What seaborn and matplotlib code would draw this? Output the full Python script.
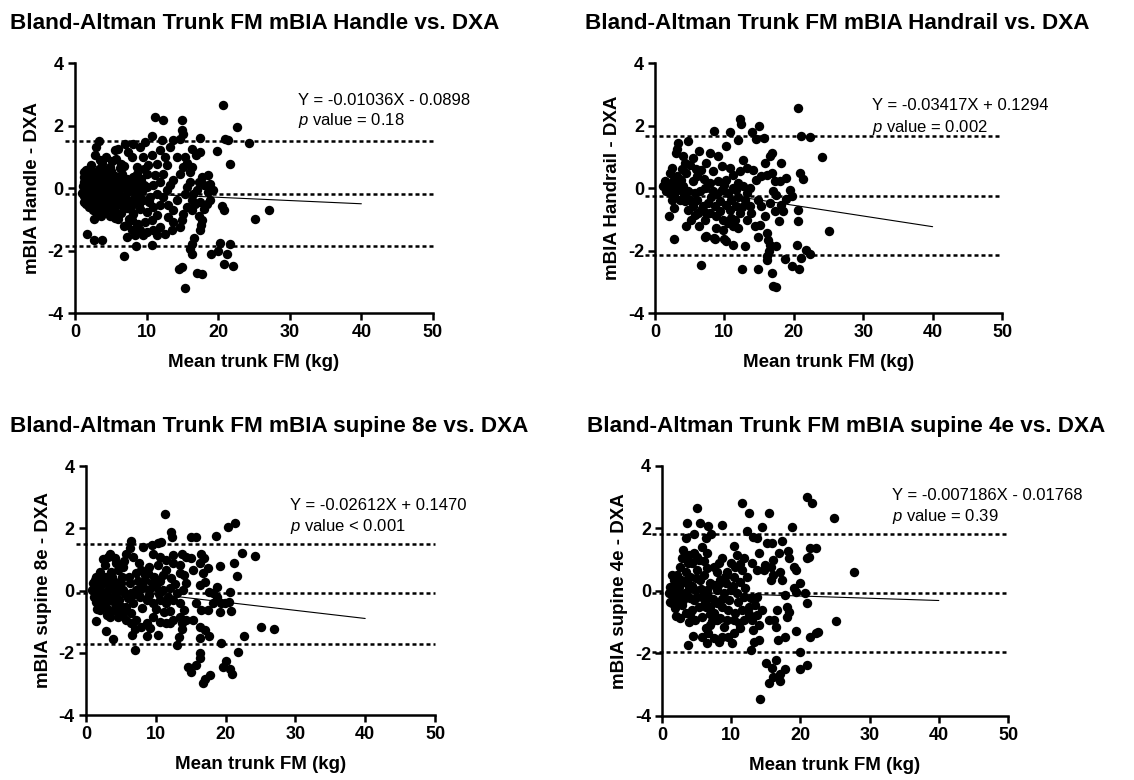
import numpy as np
import matplotlib
matplotlib.use("Agg")
import matplotlib.pyplot as plt
import seaborn as sns
import pandas as pd

sns.set_style("ticks")
plt.rcParams['font.family'] = ['Liberation Sans', 'DejaVu Sans']
plt.rcParams['mathtext.fontset'] = 'custom'
plt.rcParams['mathtext.it'] = 'Liberation Sans:italic'
plt.rcParams['mathtext.rm'] = 'Liberation Sans'
plt.rcParams['axes.unicode_minus'] = False
for key in ['text.color', 'axes.labelcolor', 'xtick.color', 'ytick.color', 'axes.edgecolor']:
    plt.rcParams[key] = 'black'

# ---- data: (mean trunk FM, difference) ----
handle_pts = [
    (20.7, 2.67), (11.2, 2.27), (12.3, 2.19), (15.0, 2.17), (15.0, 1.85), (15.1, 1.74),
    (22.6, 1.95), (20.9, 1.58), (21.4, 1.53), (24.3, 1.44), (21.6, 0.76), (19.8, 1.18),
    (17.4, 1.61), (25.1, -1.00), (27.1, -0.71), (20.5, -0.59), (20.8, -0.71), (20.3, -1.76),
    (21.7, -1.78), (20.0, -2.0), (19.0, -2.10), (21.2, -2.12), (20.8, -2.44), (22.1, -2.50),
    (14.6, -2.58), (14.9, -2.53), (17.1, -2.72), (17.7, -2.74), (15.3, -3.19), (16.0, -1.94),
    (16.3, -2.10), (16.4, -1.78), (16.6, -1.59), (17.4, -1.35), (17.6, -1.19), (17.8, -1.03),
    (17.3, -0.91), (1.7, -1.46), (2.7, -1.67), (3.8, -1.67), (6.8, -2.17), (8.5, -1.86),
    (10.7, -1.81), (9.5, -1.51), (8.4, -1.51), (7.2, -1.57),
    (16.0, 0.19), (15.6, 0.03), (15.3, -0.18), (16.3, -0.39), (15.6, -0.61), (15.1, -0.82),
    (15.0, -1.03), (16.3, -0.71), (16.5, -0.18), (17.0, -0.07), (17.3, 0.19), (17.8, 0.35),
    (18.6, 0.41), (18.8, 0.14), (18.0, 0.09), (18.6, -0.13), (19.3, -0.07), (18.9, -0.37),
    (18.4, -0.50), (18.0, -0.66), (17.4, -0.45), (16.7, -0.50), (16.0, 0.51), (16.3, 0.67),
    (15.7, 0.81), (15.3, 0.99), (16.9, 1.05), (17.4, 1.15), (16.3, 1.26), (13.7, 1.53),
    (14.7, 1.58), (13.3, 1.31), (14.2, 0.99), (15.1, 0.67), (14.7, 0.46), (13.7, 0.25),
    (13.3, 0.09), (14.2, -0.39), (13.7, -0.71), (13.0, -0.93), (13.7, -1.09), (14.7, -1.25),
    (13.5, -1.35), (12.6, -1.46), (11.9, -1.25), (13.0, -0.55),
    (10.7, 1.05), (11.4, 0.78), (11.9, 1.21), (12.6, 0.99), (12.8, 0.73), (10.2, 0.73),
    (9.5, 0.99), (9.1, 1.31), (8.1, 1.42), (7.9, 0.99), (8.6, 0.67), (10.0, 0.46),
    (11.2, 0.41), (12.3, 0.46), (11.9, 0.19), (10.9, 0.09), (10.0, 0.03), (9.1, 0.19),
    (8.1, 0.35), (7.4, 0.19), (11.4, -0.18), (12.3, -0.29), (12.8, -0.07), (10.5, -0.29),
    (9.5, -0.39), (8.6, -0.23), (7.9, -0.39), (11.9, -0.55), (10.9, -0.61), (10.0, -0.77),
    (9.1, -0.66), (8.1, -0.82), (11.4, -0.87), (10.7, -1.03), (9.8, -1.09), (8.8, -1.14),
    (7.9, -1.03), (7.2, -1.19), (10.9, -1.35), (10.0, -1.41), (11.4, -1.51), (7.9, -1.35),
    (9.1, -1.35), (10.8, 1.66), (12.1, 1.54), (9.8, 1.47),
    (3.3, 1.50), (3.0, 1.31), (2.8, 1.05), (3.5, 0.89), (4.4, 0.99), (5.6, 1.21),
    (6.0, 1.26), (5.8, 0.94), (7.0, 1.42), (7.4, 1.15), (6.5, 0.78), (4.9, 0.67),
    (4.0, 0.62), (2.3, 0.73), (1.6, 0.57), (1.2, 0.35),
    (1.1, 0.05), (1.2, -0.25), (1.3, -0.45), (1.4, 0.25), (1.5, -0.1), (1.6, 0.45),
    (1.7, -0.35), (1.8, 0.1), (1.9, -0.6), (2.0, 0.3), (2.1, -0.15), (2.2, -0.4),
    (2.3, 0.55), (2.4, 0.0), (2.5, -0.7), (2.6, 0.2), (2.7, -0.25), (2.8, -0.5),
    (2.9, 0.4), (3.0, -0.05), (3.1, -0.8), (3.2, 0.15), (3.3, -0.35), (3.4, 0.6),
    (3.5, -0.6), (3.6, 0.05), (3.7, 0.35), (3.8, -0.2), (3.9, -0.45), (4.0, 0.2),
    (4.1, -0.75), (4.2, 0.5), (4.3, -0.1), (4.4, -0.35), (4.5, 0.1), (4.6, -0.6),
    (4.7, 0.35), (4.8, -0.25), (4.9, -0.9), (5.0, 0.0), (5.1, 0.55), (5.2, -0.45),
    (5.3, 0.25), (5.4, -0.15), (5.5, -0.7), (5.6, 0.4), (5.7, -0.3), (5.8, 0.1),
    (5.9, -0.55), (6.0, -1.0), (6.1, 0.2), (6.2, -0.2), (6.4, -0.8), (6.5, 0.0),
    (6.6, 0.45), (6.7, -0.45), (6.8, -1.2), (6.9, 0.15), (7.0, -0.25), (7.2, -0.65),
    (7.3, 0.3), (7.5, -1.0), (7.6, -0.1), (7.8, 0.1), (7.9, -0.55), (8.1, -0.8),
    (8.3, 0.2), (8.4, -0.3), (8.6, -1.2), (8.8, 0.0), (9.0, -0.5), (9.2, 0.3),
    (1.0, -0.15), (1.2, 0.2), (1.5, -0.5), (2.0, -0.3), (2.2, 0.15), (2.7, 0.1),
    (3.3, 0.3), (3.5, -0.3), (4.0, -0.05), (4.5, -0.45), (2.0, 0.55), (1.3, 0.5),
    (1.4, -0.3), (1.8, -0.2), (2.3, -0.55), (2.5, 0.35), (3.0, 0.25), (3.2, -0.55),
    (3.8, 0.5), (4.2, -0.25), (4.6, 0.25), (5.0, -0.6), (5.5, 0.1), (6.0, -0.4),
    (6.3, 0.3), (6.8, -0.6), (7.1, 0.0), (7.7, -0.4), (8.2, -0.1), (8.9, -0.3),
    (9.4, -0.1), (9.7, 0.1), (10.3, -0.45), (6.3, 0.65), (5.2, 0.85), (3.8, 0.8),
    (2.6, -1.0), (3.7, -0.9), (5.6, -0.95), (6.9, 0.7), (8.7, 0.45), (9.6, 0.6),
]

handrail_pts = [
    (20.6, 2.56), (12.3, 2.21), (12.4, 2.06), (15.0, 1.97), (14.0, 1.78), (14.6, 1.57),
    (15.7, 1.60), (8.5, 1.81), (10.8, 1.78), (12.0, 1.55), (21.0, 1.65), (22.3, 1.63),
    (24.1, 0.99), (25.0, -1.39), (20.9, 0.48), (21.3, 0.29), (20.6, -0.69), (20.6, -1.07),
    (20.4, -1.81), (21.7, -1.97), (22.3, -2.11), (21.1, -2.24), (20.8, -2.59), (19.8, -2.49),
    (18.8, -2.27), (16.8, -2.72), (17.4, -3.17), (17.0, -3.15), (14.9, -2.59), (12.6, -2.59),
    (6.7, -2.45), (2.7, -1.63), (2.0, -0.91), (4.5, -1.21), (7.2, -1.57), (7.4, -1.55),
    (8.5, -1.60), (8.7, -1.63), (10.0, -1.63), (10.3, -1.71), (11.3, -1.81), (13.0, -1.85),
    (14.8, -1.57), (16.2, -1.44), (16.3, -1.65), (16.5, -1.81), (16.4, -2.03), (16.1, -2.19),
    (16.1, -2.29), (17.5, -1.87), (17.9, -1.07), (18.5, -0.75), (18.1, -0.53),
    (13.2, -0.16), (12.9, -0.37), (13.7, -0.59), (13.9, -0.80), (13.2, -1.01), (14.4, -1.23),
    (15.1, -1.17), (15.8, -0.91), (15.3, -0.59), (14.9, -0.37), (14.6, 0.27), (15.3, 0.37),
    (16.1, 0.43), (16.5, 1.01), (16.8, 1.12), (15.8, 0.80), (14.1, 0.59), (13.2, 0.64),
    (12.7, 0.91), (12.2, 0.53), (17.3, 0.21), (18.0, 0.21), (18.1, 0.80), (18.9, 0.32),
    (19.4, -0.05), (19.7, -0.27), (18.9, -0.35), (17.5, -0.21), (17.0, -0.11), (16.5, -0.48),
    (17.3, -0.75), (16.8, 0.48), (12.7, 0.05), (13.7, 0.0), (11.7, -0.05), (12.0, 0.16),
    (10.3, 1.33), (9.1, 1.01), (7.9, 1.12), (7.4, 0.80), (6.4, 1.17), (6.7, 0.59),
    (8.4, 0.53), (9.6, 0.69), (10.8, 0.64), (11.3, 0.43), (10.3, 0.27), (9.1, 0.21),
    (7.9, 0.16), (7.2, 0.0), (8.4, -0.11), (9.6, -0.05), (10.5, -0.16), (11.3, 0.0),
    (11.0, -0.37), (10.3, -0.53), (9.3, -0.43), (8.6, -0.59), (7.6, -0.48), (6.9, -0.59),
    (7.9, -0.80), (8.8, -0.91), (9.8, -1.01), (10.5, -1.12), (11.3, -1.23), (12.0, -1.28),
    (11.5, -1.01), (12.2, -0.80), (11.7, -0.59), (7.2, -1.01), (6.4, -1.23), (6.2, -0.80),
    (6.0, -0.37), (5.7, -0.16), (9.8, -1.33), (8.8, -1.28),
    (3.3, 1.44), (3.2, 1.25), (3.0, 1.12), (4.0, 1.03), (4.8, 1.49), (4.3, 0.80),
    (5.0, 0.75), (5.5, 0.96), (2.4, 0.64), (2.1, 0.48), (1.4, 0.21), (1.9, 0.05),
    (1.6, -0.11), (2.6, 0.21), (3.1, 0.37), (3.8, 0.27), (4.5, 0.48), (3.3, 0.0),
    (4.0, 0.05), (4.8, -0.11), (2.8, -0.27), (3.6, -0.37), (4.3, -0.43), (5.0, -0.37),
    (5.5, -0.59), (4.8, -0.69), (5.7, -0.85), (5.2, -1.01), (2.4, -0.37), (2.7, -0.64),
    (5.5, 0.21), (6.0, 0.37), (2.1, -0.16), (1.2, 0.05),
    (2.5, 0.1), (3.0, -0.1), (3.5, 0.15), (4.2, -0.2), (6.5, -0.1), (7.0, 0.3),
    (8.0, -0.3), (9.0, -0.2), (9.9, 0.1), (10.8, -0.7), (11.9, -0.3), (6.6, -0.7),
    (7.4, -0.8), (9.4, -0.75), (10.9, -0.95), (12.5, -0.6), (3.9, 0.6), (5.9, 0.6),
]

supine8_pts = [
    (11.3, 2.46), (21.3, 2.16), (20.4, 2.03), (18.6, 1.75), (15.0, 1.73), (15.8, 1.73),
    (12.2, 1.89), (12.3, 1.73), (6.5, 1.59), (22.3, 1.22), (24.2, 1.12), (21.2, 0.90),
    (21.6, 0.48), (19.2, 0.79), (25.1, -1.16), (26.9, -1.25), (22.7, -1.46), (21.8, -1.96),
    (19.3, -1.70), (20.1, -2.25), (19.7, -2.45), (20.7, -2.53), (20.9, -2.68), (14.6, -2.45),
    (15.0, -2.61), (15.8, -2.39), (16.3, -2.18), (16.4, -2.02), (16.8, -2.96), (17.1, -2.85),
    (17.7, -2.71), (20.6, -0.04), (20.5, -0.38), (20.8, -0.65), (19.3, -0.41), (18.7, -0.20),
    (18.7, 0.12), (18.2, -0.09), (17.6, -0.04), (17.0, 0.28), (16.3, 0.18), (16.8, 0.55),
    (17.5, 0.71), (16.9, 1.03), (16.5, 1.19), (15.1, 1.03), (15.3, 0.66), (16.3, 0.87),
    (18.2, -0.41), (17.5, -0.63), (16.5, -0.63), (15.8, -0.41), (15.3, -0.95), (16.3, -1.16),
    (17.0, -1.27), (17.6, -1.45), (16.4, -1.54), (19.2, -0.68), (19.9, -0.41),
    (1.4, -0.98), (2.9, -1.29), (3.9, -1.57), (7.0, -1.91), (8.7, -1.45), (7.0, -1.25),
    (6.6, -1.43), (10.3, -1.43), (13.0, -1.75), (13.3, -1.48), (13.7, -1.25),
    (5.8, 1.19), (6.3, 1.36), (8.2, 1.41), (9.4, 1.46), (10.3, 1.52), (10.8, 1.57),
    (9.6, 1.19), (10.6, 1.09), (11.5, 0.98), (12.5, 1.14), (13.7, 1.19), (14.4, 1.09),
    (13.4, 0.82), (12.5, 0.87), (11.5, 0.66), (10.3, 0.82), (9.1, 0.77), (7.9, 0.66),
    (7.2, 0.55), (8.5, 0.50), (9.8, 0.45), (11.0, 0.50), (12.2, 0.39), (13.4, 0.55),
    (14.1, 0.50), (14.4, 0.23), (13.9, 0.02), (13.0, -0.09), (12.0, 0.07), (11.0, 0.02),
    (10.1, 0.12), (9.1, 0.02), (8.2, 0.12), (7.2, 0.02), (7.7, -0.20), (8.7, -0.30),
    (9.6, -0.41), (10.6, -0.30), (11.5, -0.41), (12.5, -0.30), (13.4, -0.41), (14.1, -0.63),
    (13.4, -0.84), (12.5, -0.95), (11.5, -1.05), (10.6, -1.00), (9.6, -0.84), (8.7, -1.05),
    (7.9, -1.16), (7.2, -0.95), (6.5, -0.73), (5.8, -0.52), (14.4, -0.95), (13.7, -1.05),
    (12.0, -1.05), (6.7, 1.09), (7.6, 0.87),
    (3.4, 1.19), (3.2, 1.09), (4.1, 1.03), (4.3, 0.87), (2.7, 0.82), (2.0, 0.61),
    (1.5, 0.45), (1.0, 0.23), (0.8, 0.02), (1.2, -0.20), (1.5, -0.36), (2.0, 0.02),
    (2.4, 0.23), (2.9, 0.45), (3.6, 0.61), (4.6, 0.66), (5.3, 0.77), (5.1, 0.45),
    (4.1, 0.28), (3.4, 0.12), (2.7, -0.09), (2.2, -0.41), (2.9, -0.52), (3.6, -0.30),
    (4.3, -0.09), (5.3, 0.02), (4.8, -0.30), (4.1, -0.57), (3.4, -0.84), (4.6, -0.84),
    (5.5, -0.68), (6.0, -0.25), (6.3, 0.23), (6.5, -0.09), (2.0, -0.63), (2.4, 0.34),
    (3.2, 0.02), (3.9, 0.07), (4.6, 0.12), (1.7, 0.23), (1.2, 0.02), (2.0, -0.20),
    (2.7, -0.36), (4.1, -0.41), (5.1, -0.52), (5.8, -0.95), (6.5, -1.05),
    (1.3, 0.35), (1.8, -0.1), (2.2, 0.45), (2.6, -0.25), (3.0, 0.3), (3.3, -0.2),
    (3.8, 0.45), (4.4, -0.25), (5.0, 0.25), (5.6, -0.1), (6.1, 0.45), (6.8, -0.4),
    (7.4, 0.3), (8.0, -0.55), (8.4, 0.35), (9.0, -0.15), (9.4, 0.25), (10.0, -0.6),
    (10.4, -0.1), (11.2, -0.7), (11.8, -0.2), (12.8, 0.2), (6.9, -0.1), (7.8, 0.05),
    (8.9, 0.55), (10.6, 0.3), (2.5, 1.0), (3.7, -0.65), (4.9, -0.75), (1.6, -0.6),
    (9.2, -1.2), (12.0, -0.65), (5.4, 0.95), (3.0, -0.8),
]

supine4_pts = [
    (21.0, 3.02), (21.7, 2.83), (11.6, 2.83), (12.5, 2.49), (15.4, 2.51), (5.1, 2.65),
    (24.8, 2.33), (3.6, 2.17), (5.5, 2.19), (6.6, 2.08), (8.7, 2.11), (7.1, 1.82),
    (6.3, 1.69), (4.6, 1.82), (3.4, 1.69), (12.3, 1.93), (14.5, 2.04), (13.2, 1.74),
    (13.7, 1.69), (18.8, 2.04), (17.3, 1.61), (27.8, 0.62), (21.4, 1.37), (22.3, 1.37),
    (21.2, 1.10), (21.0, 1.05), (22.6, -1.32), (22.2, -1.33), (21.4, -1.48), (25.1, -0.96),
    (20.9, -0.39), (20.7, -0.07), (20.0, -1.94), (20.0, -2.51), (20.9, -2.37), (14.2, -3.47),
    (15.0, -2.29), (16.4, -2.21), (15.9, -2.47), (16.1, -2.74), (15.5, -2.95), (17.0, -2.66),
    (17.0, -2.87), (17.8, -2.51), (12.8, -1.89), (13.3, -1.62), (14.0, -1.57), (3.7, -1.73),
    (4.5, -1.43), (19.4, -1.27), (17.8, -1.46), (16.8, -1.57), (16.4, -1.16), (16.2, -0.93),
    (15.4, -0.93), (16.6, -0.61), (18.1, -0.50), (18.3, -0.66), (18.1, -0.82), (17.8, -0.13),
    (19.3, -0.02), (19.0, 0.09), (20.0, 0.27), (19.3, 0.67), (19.0, 0.78), (18.4, 1.05),
    (18.2, 1.29), (16.9, 1.21), (16.0, 1.00), (17.1, 0.62), (17.3, 0.35), (16.1, 0.51),
    (15.7, 0.35), (14.7, 0.67), (14.9, 0.83), (13.7, 0.67), (13.0, 0.89), (14.0, 1.21),
    (15.2, 1.53), (15.9, 1.55), (15.7, 0.78),
    (10.4, 1.44), (10.8, 1.15), (11.8, 1.05), (9.9, 0.89), (8.7, 1.05), (8.2, 0.89),
    (7.5, 0.78), (7.9, 0.62), (9.4, 0.62), (10.6, 0.78), (11.6, 0.67), (12.3, 0.46),
    (11.3, 0.30), (10.4, 0.46), (9.2, 0.25), (8.4, 0.35), (7.5, 0.19), (7.9, 0.03),
    (8.9, -0.07), (9.9, 0.03), (10.8, -0.07), (11.8, -0.18), (12.8, -0.23), (13.7, -0.18),
    (13.5, -0.45), (12.5, -0.50), (11.6, -0.61), (10.6, -0.71), (9.6, -0.61), (8.7, -0.50),
    (7.9, -0.39), (7.0, -0.50), (7.5, -0.71), (8.4, -0.87), (9.4, -0.93), (10.4, -0.93),
    (11.1, -1.03), (11.8, -0.93), (13.0, -0.93), (13.7, -0.77), (14.5, -0.61), (14.0, -1.09),
    (13.2, -1.25), (11.3, -1.20), (10.4, -1.36), (9.6, -1.46), (10.1, -1.67), (8.7, -1.46),
    (8.2, -1.62), (7.5, -1.51), (6.7, -1.36), (6.3, -1.20), (7.0, -1.09), (5.8, -1.46),
    (6.5, -1.67), (7.9, -0.93),
    (1.2, 0.14), (1.4, -0.13), (1.2, -0.34), (1.7, 0.35), (2.2, 0.51), (2.4, 0.14),
    (2.6, -0.07), (2.2, -0.29), (1.9, -0.55), (2.9, -0.45), (3.1, 0.30), (3.4, 0.62),
    (2.9, 1.05), (3.1, 1.31), (3.9, 1.15), (4.3, 0.89), (4.6, 1.21), (5.3, 0.99),
    (5.1, 0.67), (4.1, 0.46), (3.9, 0.14), (3.6, -0.13), (3.4, -0.71), (2.6, -0.87),
    (3.9, -0.98), (4.3, -0.61), (4.6, -0.29), (4.8, 0.03), (5.5, 0.35), (6.0, 0.51),
    (6.5, 0.73), (5.8, -0.18), (5.3, -0.50), (5.8, -0.82), (6.3, -0.50), (6.5, 0.03),
    (7.0, 0.25), (6.7, -0.18), (4.8, -0.93), (4.1, -0.23), (3.1, -0.29), (2.4, -0.07),
    (1.7, 0.03), (1.0, -0.07), (1.4, -0.39), (5.1, 1.10), (5.8, 1.42), (6.5, 1.21),
    (2.6, 0.78),
    (1.5, 0.5), (2.0, 0.2), (2.8, 0.35), (3.3, -0.05), (3.6, 0.35), (4.4, 0.15),
    (5.0, -0.2), (5.6, 0.05), (6.2, -0.35), (6.9, -0.75), (7.3, -0.25), (8.1, 0.2),
    (8.6, -0.25), (9.1, 0.45), (9.7, -0.3), (10.2, 0.15), (11.0, -0.35), (12.0, 0.1),
    (2.0, -0.8), (2.8, -0.2), (4.0, -0.75), (4.9, 0.4), (6.1, 0.95), (7.2, -0.95),
    (9.0, -1.15), (12.6, -0.75), (11.3, 0.85), (3.7, 0.9),
]

titles = [
    "Bland-Altman Trunk FM mBIA Handle vs. DXA",
    "Bland-Altman Trunk FM mBIA Handrail vs. DXA",
    "Bland-Altman Trunk FM mBIA supine 8e vs. DXA",
    "Bland-Altman Trunk FM mBIA supine 4e vs. DXA",
]
ylabels = ["mBIA Handle - DXA", "mBIA Handrail - DXA", "mBIA supine 8e - DXA", "mBIA supine 4e - DXA"]
eq_texts = [
    "Y = -0.01036X - 0.0898",
    "Y = -0.03417X + 0.1294",
    "Y = -0.02612X + 0.1470",
    "Y = -0.007186X - 0.01768",
]
p_texts = ["= 0.18", "= 0.002", "< 0.001", "= 0.39"]
slopes = [-0.01036, -0.03417, -0.02612, -0.007186]
intercepts = [-0.0898, 0.1294, 0.1470, -0.01768]
bias = [-0.18, -0.245, -0.08, -0.064]
upper_loa = [1.50, 1.675, 1.505, 1.81]
lower_loa = [-1.87, -2.14, -1.71, -1.95]
all_pts = [handle_pts, handrail_pts, supine8_pts, supine4_pts]

# layout in figure fractions (left, bottom, width, height)
ax_rects = [
    (0.0661, 0.5987, 0.3157, 0.3205),
    (0.5776, 0.5987, 0.3060, 0.3205),
    (0.0758, 0.0833, 0.3078, 0.3192),
    (0.5838, 0.0821, 0.3051, 0.3205),
]
title_pos = [(0.009, 0.970), (0.516, 0.970), (0.009, 0.453), (0.518, 0.453)]
text_pos = [(31.2, 2.80, 2.17), (31.2, 2.63, 1.95), (29.2, 2.73, 2.05), (33.2, 3.04, 2.37)]

fig = plt.figure(figsize=(11.34, 7.8), dpi=100)

for i in range(4):
    ax = fig.add_axes(ax_rects[i])
    df = pd.DataFrame(all_pts[i], columns=["mean_fm", "diff"])

    # bias and limits of agreement
    for yv in [upper_loa[i], bias[i], lower_loa[i]]:
        ax.plot([-1.4, 50], [yv, yv], color='black', lw=1.8,
                linestyle=(0, (1.6, 1.2)), clip_on=False, zorder=1)
    # regression line
    xr = np.array([1.0, 40.0])
    ax.plot(xr, slopes[i] * xr + intercepts[i], color='black', lw=0.8, zorder=2)

    sns.scatterplot(data=df, x="mean_fm", y="diff", ax=ax, color='black',
                    s=46, linewidth=0, alpha=1, zorder=3)

    ax.set_xlim(0, 50)
    ax.set_ylim(-4, 4)
    ax.set_xticks([0, 10, 20, 30, 40, 50])
    ax.set_yticks([-4, -2, 0, 2, 4])
    sns.despine(ax=ax)
    for sp in ['left', 'bottom']:
        ax.spines[sp].set_linewidth(1.8)
    ax.tick_params(width=1.8, length=5, labelsize=13, pad=3)
    for lab in ax.get_xticklabels() + ax.get_yticklabels():
        lab.set_fontweight('bold')
    ax.set_xlabel("Mean trunk FM (kg)", fontsize=13.5, fontweight='bold', labelpad=9)
    ax.set_ylabel(ylabels[i], fontsize=13.5, fontweight='bold', labelpad=5)

    tx, ty1, ty2 = text_pos[i]
    ax.text(tx, ty1, eq_texts[i], fontsize=12, va='center', ha='left')
    ax.text(tx, ty2, r"$\it{p}$ value " + p_texts[i], fontsize=12, va='center', ha='left')

    fig.text(title_pos[i][0], title_pos[i][1], titles[i], fontsize=16.2,
             fontweight='bold', ha='left', va='center')

fig.savefig("out.png", dpi=100)
